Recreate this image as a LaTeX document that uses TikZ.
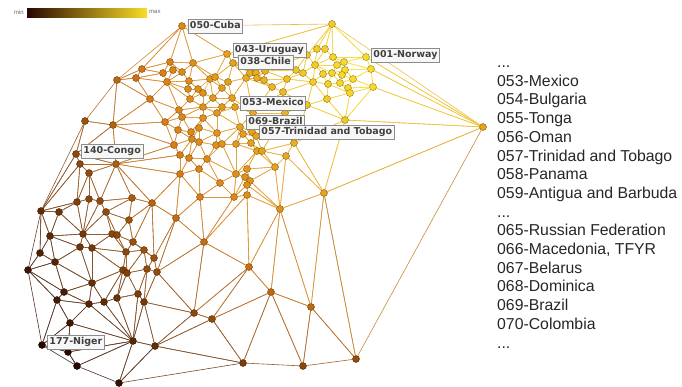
\documentclass[tikz,border=0pt]{standalone}
\usepackage{fontspec}
\setmainfont{Liberation Sans}
\newfontfamily\lblfont{DejaVu Sans}
\usetikzlibrary{positioning,backgrounds}
\definecolor{hmin}{RGB}{40,8,0}
\definecolor{hmid}{RGB}{215,120,20}
\definecolor{hmax}{RGB}{250,220,40}

\begin{document}
\begin{tikzpicture}[x=1pt,y=-1pt,
	dot/.style={circle,inner sep=0pt,minimum size=7pt,line width=0.4pt},
	link/.style={line width=0.6pt},
	country/.style={draw=black!45,fill=black!3,line width=0.5pt,text=black!75,
		font=\lblfont\bfseries\fontsize{9.5}{10}\selectfont,
		inner xsep=2pt,inner ysep=2.5pt,text height=7pt,text depth=2pt},
	entry/.style={anchor=base west,inner sep=0pt,text=black!85,font=\fontsize{15.8}{16}\selectfont}]
	\useasboundingbox (0,0) rectangle (682,386);

	% colour scale
	\shade[left color=hmin,middle color=hmid,right color=hmax] (27,8) rectangle (147,17);
	\node[anchor=east,inner sep=0pt,text=black!60,font=\fontsize{6}{6}\selectfont] (smin) at (24,12) {min};
	\node[anchor=west,inner sep=0pt,text=black!60,font=\fontsize{6}{6}\selectfont] (smax) at (149,12) {max};

	% countries
	\foreach \i/\x/\y in {1/182/26, 2/332/24, 3/227/54, 4/233/63, 5/193/63, 6/170/62, 7/173/70, 8/163/73,
		9/182/72, 10/167/82, 11/189/81, 12/188/89, 13/142/69, 14/136/78, 15/117/80, 16/150/99, 17/179/110,
		18/190/99, 19/165/122, 20/178/130, 21/113/125, 22/85/121, 23/174/145, 24/210/79, 25/215/77,
		26/228/82, 27/246/78, 28/250/73, 29/256/73, 30/265/71, 31/257/78, 32/264/80, 33/272/87, 34/287/79,
		35/283/92, 37/198/89, 38/203/93, 39/213/98, 40/222/88, 41/232/98, 42/235/107, 43/222/107,
		44/203/107, 45/182/117, 46/217/113, 47/253/113, 48/285/113, 49/203/118, 50/191/132, 51/217/133,
		52/240/127, 53/252/132, 54/199/128, 55/192/139, 56/199/142, 57/243/134, 58/251/143, 59/256/136,
		60/257/151, 61/262/151, 62/236/144, 63/216/145, 64/222/144, 65/275/167, 66/286/156, 67/294/143,
		68/180/155, 69/189/158, 70/207/159, 71/199/169, 72/180/174, 73/220/183, 74/236/174, 75/247/169,
		76/245/177, 77/250/181, 78/247/185, 79/247/195, 80/234/197, 81/200/197, 82/152/203, 83/176/218,
		84/280/209, 85/132/198, 86/324/193, 87/483/127, 88/249/267, 89/271/292, 90/311/307, 91/243/363,
		92/303/366, 93/356/359, 94/204/242,
		95/296/70, 96/303/73, 97/307/55, 98/317/49, 99/325/49, 100/333/57, 101/315/65, 102/337/65,
		103/344/62, 104/345/70, 105/323/74, 106/332/73, 107/342/75, 108/313/82, 109/328/84, 110/340/83,
		111/353/79, 112/348/88, 113/350/93, 114/366/57, 115/371/69, 116/373/87, 117/327/99, 118/307/105,
		119/345/120,
		120/76/154, 121/80/164, 122/89/173, 123/116/164, 124/41/211, 125/59/212, 126/77/202, 127/89/199,
		128/100/201, 129/106/212, 130/129/220, 131/50/236, 132/83/234, 133/112/234, 134/117/235,
		135/133/242, 136/80/247, 137/92/248, 138/40/253, 139/126/252, 140/144/250, 141/154/258,
		142/28/270, 143/55/262, 144/123/270, 145/127/273, 146/147/269, 147/157/272, 148/92/283,
		149/64/292, 150/57/300, 151/89/304, 152/104/302, 153/117/298, 154/138/294, 155/144/302,
		156/194/313, 157/212/319, 158/70/323, 159/133/341, 160/155/346, 161/42/345, 162/68/352,
		163/77/366, 164/119/383}{
		\pgfmathtruncatemacro\hv{max(0,min(100,(420-veclen(\x-365,\y-65))/4))}
		\ifnum\hv<50
			\pgfmathtruncatemacro\hp{2*\hv}
			\xglobal\colorlet{c\i}{hmid!\hp!hmin}
		\else
			\pgfmathtruncatemacro\hp{2*\hv-100}
			\xglobal\colorlet{c\i}{hmax!\hp!hmid}
		\fi
		\node[dot,fill=c\i,draw=c\i!55!black] (n\i) at (\x,\y) {};
	}

	% triangulation
	\begin{pgfonlayer}{background}
	\foreach \a/\b/\c in {1/2/3, 1/3/5, 1/5/6, 1/6/13, 1/13/15,
		13/14/15, 13/14/8, 13/8/6, 6/7/8, 6/7/9, 6/9/5,
		7/8/10, 7/9/10, 14/8/10, 14/10/16, 14/15/16,
		9/10/11, 9/11/5, 10/11/12, 11/12/37, 11/37/24, 11/5/24, 10/12/18, 12/18/37, 10/18/17, 10/16/17,
		5/24/25, 5/25/3, 3/25/4,
		15/22/21, 15/16/21, 16/21/19, 16/17/19,
		17/19/45, 17/18/44, 17/44/45, 18/37/38, 18/38/44,
		19/45/20, 19/20/23, 19/21/23, 20/23/55, 20/45/50, 20/50/55,
		24/38/39, 24/39/40, 24/25/40, 25/40/26, 25/26/4,
		38/39/44, 39/43/44, 39/40/41, 39/41/43,
		40/41/26, 26/27/41, 26/4/27, 4/27/28, 4/28/29, 4/29/30,
		41/42/43, 41/42/47, 41/27/47,
		43/44/46, 42/43/46, 44/46/49, 44/45/49, 45/49/50,
		49/50/54, 50/54/55, 54/55/56, 49/54/51, 54/51/56, 46/49/51, 46/51/52, 42/46/52, 42/47/52,
		51/56/63, 56/63/70, 56/69/70, 55/56/69, 55/68/69, 23/55/68,
		51/63/64, 63/64/70, 51/52/64, 52/62/64, 52/57/62, 52/53/57, 52/47/53,
		57/58/62, 57/58/59, 57/53/59, 47/53/48, 53/59/48, 59/48/61, 58/59/61, 58/60/61, 62/58/60,
		64/70/74, 64/62/74, 62/74/60,
		48/61/67, 61/66/67, 61/65/66, 60/61/65, 60/65/75, 60/74/75,
		68/69/72, 69/70/71, 69/71/72, 70/71/73, 70/73/74, 71/72/81, 71/73/81,
		74/75/76, 75/76/77, 75/65/77, 65/77/84, 65/66/84, 66/84/86, 66/67/86,
		74/76/80, 76/78/80, 76/77/78, 77/78/84, 78/79/84, 78/79/80, 73/74/80, 73/80/81,
		79/80/94, 79/88/94, 80/81/94, 81/83/94, 72/81/83, 72/82/83,
		27/28/31, 28/29/31, 29/30/31, 30/31/32, 31/32/33, 27/31/33, 27/33/47, 33/47/35, 47/35/48,
		32/33/34, 33/34/35, 30/32/34, 30/34/95,
		34/95/96, 34/96/108, 34/35/108, 35/108/118, 35/48/118, 48/67/118, 67/118/119, 67/86/119,
		108/117/118, 117/118/119, 117/119/113, 113/116/119, 116/119/87, 86/119/87,
		4/30/97, 3/4/97, 3/97/2, 30/95/97,
		95/96/97, 96/97/101, 96/101/108, 97/98/101, 97/98/2, 98/99/2, 98/99/101, 99/100/101, 99/100/2,
		100/101/102, 101/102/106, 101/105/106, 101/105/108, 100/102/103, 102/103/104, 102/104/106, 104/106/107,
		105/106/109, 106/107/110, 106/109/110, 105/108/109, 108/109/117, 109/110/113, 109/113/117, 110/112/113,
		107/110/111, 110/111/112, 111/112/116, 112/113/116, 104/107/111, 104/111/115, 111/115/116,
		103/104/115, 103/114/115, 100/103/114, 100/2/114, 2/114/87, 114/115/87, 115/116/87,
		84/86/90, 84/88/89, 84/89/90, 79/84/88, 86/90/93, 86/93/87, 89/90/92, 90/92/93,
		88/89/157, 89/91/157, 89/91/92, 88/94/156, 88/156/157,
		22/21/120, 21/120/123, 120/121/123, 121/122/123, 120/121/124, 22/120/124, 121/124/126, 121/122/126, 124/125/126,
		122/126/127, 122/127/128, 122/123/128, 123/128/85, 128/129/85, 129/130/85, 85/130/82, 123/85/82, 123/82/72,
		123/68/72, 123/23/68, 21/23/123,
		124/125/131, 124/131/138, 124/138/142, 138/142/143, 131/138/143, 131/136/143, 131/132/136, 125/131/132, 125/126/132,
		126/127/132, 127/128/132, 128/129/132, 129/132/133, 129/133/134, 129/130/134,
		130/134/135, 134/135/139, 133/134/139, 133/137/139, 132/133/137, 132/136/137, 136/137/148, 136/143/148,
		137/139/144, 137/144/148, 139/144/145, 139/140/145, 135/139/140, 135/140/141, 130/82/135, 82/135/141, 82/83/141,
		83/141/147, 83/94/147, 94/147/156, 140/145/146, 140/141/146, 141/146/147,
		143/148/149, 142/143/149, 142/149/150, 148/149/151, 149/150/151, 150/151/158, 142/150/161, 150/158/161,
		144/148/152, 148/151/152, 144/152/153, 144/145/153, 145/153/154, 145/146/154, 146/154/155, 146/147/155, 147/155/156,
		151/152/159, 151/158/159, 152/153/159, 153/154/159, 154/155/159, 155/159/160, 155/156/160, 156/157/160, 157/160/91,
		158/159/162, 158/161/162, 159/162/163, 161/162/163, 159/163/164, 159/160/164, 160/91/164}{
		\draw[link,color=c\a!50!c\b!85!white] (n\a) -- (n\b);
		\draw[link,color=c\b!50!c\c!85!white] (n\b) -- (n\c);
		\draw[link,color=c\a!50!c\c!85!white] (n\a) -- (n\c);
	}
	\end{pgfonlayer}

	% labels
	\node[country,right=2pt of n1] (lcuba) {050-Cuba};
	\node[country,right=2pt of n3,yshift=4pt] (luruguay) {043-Uruguay};
	\node[country,right=1.5pt of n4,yshift=1pt] (lchile) {038-Chile};
	\node[country,right=1.5pt of n114,yshift=2pt] (lnorway) {001-Norway};
	\node[country,right=1.5pt of n42,yshift=4pt] (lmexico) {053-Mexico};
	\node[country,right=2.5pt of n52,yshift=5pt] (lbrazil) {069-Brazil};
	\node[country,right=3.5pt of n53] (ltrinidad) {057-Trinidad and Tobago};
	\node[country,right=1.5pt of n120,yshift=3pt] (lcongo) {140-Congo};
	\node[country,right=1.5pt of n161,yshift=3pt] (lniger) {177-Niger};

	% ranking
	\foreach \k/\t in {0/{...}, 1/053-Mexico, 2/054-Bulgaria, 3/055-Tonga, 4/056-Oman,
		5/057-Trinidad and Tobago, 6/058-Panama, 7/059-Antigua and Barbuda, 8/{...},
		9/065-Russian Federation, 10/{066-Macedonia, TFYR}, 11/067-Belarus, 12/068-Dominica,
		13/069-Brazil, 14/070-Colombia, 15/{...}}
		\node[entry] (e\k) at (497,{62+18.7*\k+5.5}) {\t};
\end{tikzpicture}
\end{document}
